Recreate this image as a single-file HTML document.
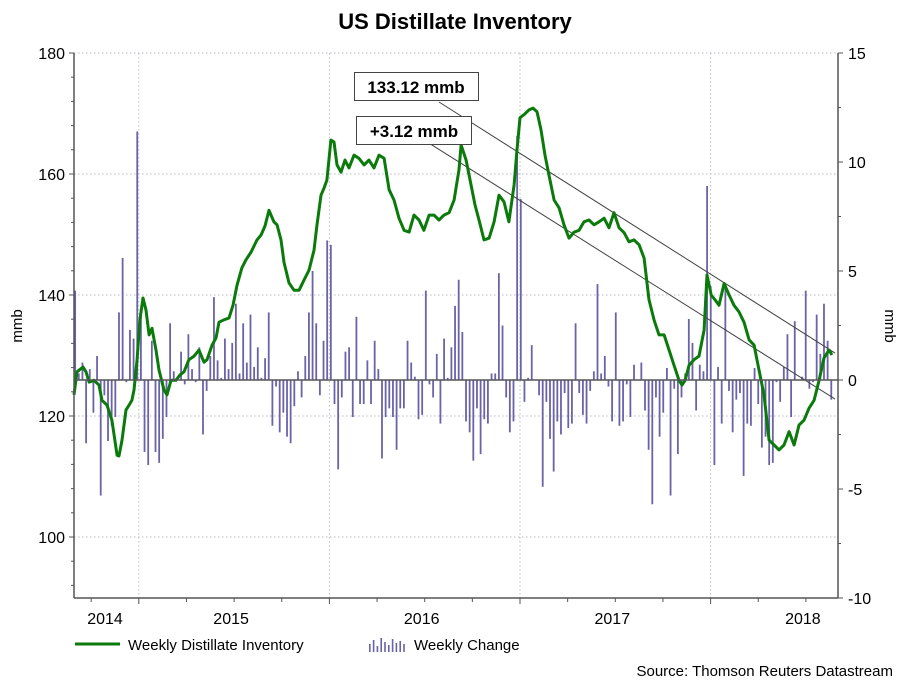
<!DOCTYPE html>
<html><head><meta charset="utf-8"><style>
body{margin:0;background:#fff;font-family:"Liberation Sans",sans-serif}
svg text{font-family:"Liberation Sans",sans-serif}
</style></head><body>
<svg id="chart" width="909" height="682" viewBox="0 0 909 682" xmlns="http://www.w3.org/2000/svg">
<text x="455" y="29" text-anchor="middle" font-size="22" font-weight="bold">US Distillate Inventory</text>
<g id="grid"></g>
<g id="bars"></g>
<g id="trend"></g>
<path id="line" fill="none" stroke="#0a7a0a" stroke-width="3" stroke-linejoin="round"/>
<g id="axes"></g>
<g>
<rect x="354.5" y="72.5" width="124" height="28" fill="#fff" stroke="#444"/>
<text x="416" y="93" text-anchor="middle" font-size="17" font-weight="bold">133.12 mmb</text></g>
<g>
<rect x="356.5" y="116.5" width="115" height="28" fill="#fff" stroke="#444"/>
<text x="414" y="137" text-anchor="middle" font-size="17" font-weight="bold">+3.12 mmb</text></g>
<text transform="translate(22,326) rotate(-90)" text-anchor="middle" font-size="15">mmb</text>
<text transform="translate(885,326) rotate(90)" text-anchor="middle" font-size="15">mmb</text>
<g>
<line x1="75" y1="644" x2="120" y2="644" stroke="#0a7a0a" stroke-width="3"/>
<text x="128" y="650" font-size="15">Weekly Distillate Inventory</text></g>
<g id="legbars">
<text x="414" y="650" font-size="15">Weekly Change</text></g>
<text x="893" y="676" text-anchor="end" font-size="15">Source: Thomson Reuters Datastream</text>
</svg>
<script>
const dates=[0,.016,.047,.063,.079,.105,.131,.147,.173,.199,.226,.236,.252,.273,.289,.304,.315,.331,.346,.362,.378,.394,.409,.430,.446,.472,.488,.509,.535,.556,.577,.603,.630,.656,.682,.698,.724,.745,.761,.787,.813,.834,.855,.881,.902,.929,.960,.981,1.002,1.023,1.049,1.065,1.086,1.102,1.128,1.154,1.181,1.207,1.233,1.259,1.275,1.296,1.312,1.327,1.348,1.364,1.380,1.401,1.422,1.443,1.469,1.495,1.522,1.548,1.574,1.600,1.627,1.653,1.679,1.705,1.732,1.758,1.784,1.810,1.836,1.863,1.889,1.915,1.941,1.968,1.994,2.020,2.031,2.057,2.073,2.088,2.104,2.125,2.151,2.178,2.204,2.230,2.256,2.282,2.309,2.324,2.340,2.361,2.387,2.408,2.429,2.450,2.471,2.492,2.519,2.545,2.571,2.597,2.624,2.650,2.676,2.702,2.728,2.755,2.781,2.807,2.833,2.860,2.886,2.912,2.938,2.965,2.991,3.017,3.043,3.069,3.096,3.122,3.148,3.174,3.190,3.206,3.227,3.253,3.279,3.306,3.321,3.343,3.363,3.384,3.411,3.437,3.463,3.489,3.515,3.542,3.568,3.594,3.620,3.647,3.673,3.699,3.725,3.752,3.778,3.804,3.830,3.857,3.883,3.909,3.935,3.961,3.977,4.003];
const inventory=[123.5,127.3,128.1,127.3,125.6,125.9,125.1,122.6,121.8,119.3,113.5,113.4,116.0,121.0,121.8,122.6,124.3,129.3,135.9,139.5,137.5,133.4,134.5,130.9,127.6,124.3,123.5,125.9,125.9,126.8,127.3,129.3,129.9,130.9,128.9,129.3,131.7,132.9,135.5,135.9,136.2,138.3,141.6,144.5,145.8,147.1,149.1,149.9,151.4,154.0,152.1,151.6,149.1,145.4,142.0,140.8,140.8,142.5,144.1,147.4,151.6,156.5,157.7,159.0,165.6,165.3,161.5,160.3,162.3,161.0,163.1,162.6,161.5,162.3,161.0,163.1,162.6,157.4,155.7,152.7,150.7,150.4,153.2,152.4,150.7,153.2,153.2,152.4,153.2,153.6,155.7,160.7,164.8,162.3,159.8,157.4,154.9,152.4,149.1,149.4,152.1,156.5,155.4,152.1,158.2,164.0,169.3,169.8,170.6,170.9,170.3,167.3,163.1,159.8,155.7,154.4,151.6,149.4,150.4,150.7,152.1,152.4,151.6,152.1,152.7,151.1,153.6,151.1,150.3,148.8,149.1,148.3,146.1,139.2,135.9,133.4,133.4,130.9,128.4,125.9,125.1,125.9,128.4,129.3,129.9,134.2,143.3,140.0,139.2,138.3,141.9,140.0,138.3,137.2,135.5,132.6,131.7,127.6,123.5,116.0,115.2,114.4,115.2,117.4,115.2,118.5,119.3,121.3,122.6,125.9,129.6,130.9,130.1];
const startYear=2014.66;
const barStart=2014.666;
const changes=[4.1,.3,.8,-2.9,.5,-1.5,1.1,-5.3,-.7,-2.8,-2.1,-1.7,3.1,5.6,-.1,2.3,1.9,11.4,3.0,-3.3,-3.9,1.8,-3.3,-3.8,-2.7,-1.7,2.6,.4,0,1.3,-.2,2.1,.5,-.1,1.5,-2.5,-.5,1.1,3.8,.9,.1,1.9,.5,1.7,3.5,.3,2.6,.8,3.0,.6,1.5,.1,1.0,3.1,-2.1,-.3,-2.4,-1.5,-2.6,-2.9,-1.2,.4,-.8,1.1,3.1,5.0,2.6,-.7,1.8,6.4,6.2,-1.1,-4.1,-.8,1.3,1.5,
-1.7,2.9,-1.1,-1.1,.9,-1.1,1.8,.5,-3.6,-1.7,-1.3,-1.7,-3.2,-1.3,-1.3,1.8,.8,.15,-1.8,-1.6,4.1,-.2,-.8,1.2,-2.0,1.9,.1,1.5,3.4,4.6,2.2,-1.9,-2.4,-3.7,-1.3,-3.4,-1.8,-2.0,.3,.3,4.9,2.5,-.8,-2.4,-1.9,11.2,8.3,-1.0,.1,1.6,0,-.7,-4.9,-1.0,-2.7,-4.2,-1.9,-2.5,-.6,-2.2,-2.0,2.6,-.6,-1.6,-2.0,-.5,.4,4.4,.3,
1.1,-.3,-1.9,3.1,-2.1,-1.9,-.2,-1.7,.7,0,.8,-1.4,-3.2,-5.7,-.8,-2.6,-1.5,.55,-5.3,-.4,-3.4,-.8,.3,2.8,1.7,-1.4,.7,.4,8.9,4.3,-3.9,.6,-2.0,4.4,-.5,-2.4,-.9,-.6,-4.4,-2.0,-2.1,.55,-1.1,-3.1,-2.6,-3.9,-3.8,-.1,-1.0,.6,2.1,-1.7,2.7,0,.15,4.1,-.4,-.1,3.0,1.2,3.5,1.8,-.9];
const trendUpper=[[2016.575,171.9],[2018.653,130.4]];
const trendLower=[[2016.523,165.1],[2018.653,122.8]];
const leftTicks=[100,120,140,160,180];
const rightTicks=[-10,-5,0,5,10,15];
const yearLabels=[2014,2015,2016,2017,2018];
const yearBounds=[2015,2016,2017,2018];

const X0=74,X1=838,Y0=53,Y1=598;
const xs=t=>X0+(t-2014.66)*190.6;
const yl=v=>Y0+(180-v)*6.05;
const yr=v=>Y0+(15-v)*21.8;
const NS='http://www.w3.org/2000/svg';
function mk(p,tag,at){const e=document.createElementNS(NS,tag);for(const k in at)e.setAttribute(k,at[k]);p.appendChild(e);return e;}
const grid=document.getElementById('grid'),axes=document.getElementById('axes');
[100,120,140,160,180].forEach(v=>{const l=mk(grid,'line',{x1:X0,x2:X1,y1:yl(v),y2:yl(v),stroke:'#b8b8c8','stroke-dasharray':'1.5 2.5'});

});
yearBounds.forEach(y=>{const l=mk(grid,'line',{x1:xs(y),x2:xs(y),y1:Y0,y2:Y1,stroke:'#b8b8c8','stroke-dasharray':'1.5 2.5'});

});
const bars=document.getElementById('bars');
changes.forEach((c,i)=>{const x=xs(barStart+i*7/365.25);const y=yr(c),z=yr(0);
const r=mk(bars,'rect',{x:x-0.9,y:Math.min(y,z),width:1.8,height:Math.max(Math.abs(y-z),0.5),fill:'#6b63a8'});

});
const zl=mk(axes,'line',{x1:X0,x2:X1,y1:yr(0),y2:yr(0),stroke:'#555','stroke-width':1.5});


const tr=document.getElementById('trend');
[trendUpper,trendLower].forEach(a=>{const l=mk(tr,'line',{x1:xs(a[0][0]),y1:yl(a[0][1]),x2:xs(a[1][0]),y2:yl(a[1][1]),stroke:'#444','stroke-width':1});

});
document.getElementById('line').setAttribute('d',dates.map((d,i)=>(i?'L':'M')+xs(startYear+d).toFixed(1)+' '+yl(inventory[i]).toFixed(1)).join(''));
mk(axes,'line',{x1:X0,x2:X0,y1:Y0,y2:Y1,stroke:'#555','stroke-width':1.5});
mk(axes,'line',{x1:X1,x2:X1,y1:Y0,y2:Y1,stroke:'#555','stroke-width':1.5});
mk(axes,'line',{x1:X0,x2:X1,y1:Y1,y2:Y1,stroke:'#555','stroke-width':1.5});
for(let v=92;v<=180;v+=4){mk(axes,'line',{x1:X0-(v%20==0?5:3),x2:X0,y1:yl(v),y2:yl(v),stroke:'#555'});}
leftTicks.forEach(v=>{const t=mk(axes,'text',{x:X0-9,y:yl(v)+6,'text-anchor':'end','font-size':16});t.textContent=v;

});
for(let v=-10;v<=15;v+=2.5){mk(axes,'line',{x1:X1,x2:X1+(v%5==0?5:3),y1:yr(v),y2:yr(v),stroke:'#555'});}
rightTicks.forEach(v=>{const t=mk(axes,'text',{x:X1+10,y:yr(v)+6,'font-size':16});t.textContent=v;

});
for(let q=2014.75;q<2018.7;q+=0.25){mk(axes,'line',{x1:xs(q),x2:xs(q),y1:Y1,y2:Y1+(Math.abs(q-Math.round(q))<0.01?6:4),stroke:'#555'});}
yearLabels.forEach(y=>{const cx=y==2014?105:xs(y+0.5)-3;const t=mk(axes,'text',{x:cx,y:624,'text-anchor':'middle','font-size':16});t.textContent=y;

});
const lb=document.getElementById('legbars');
[6,10,4,12,8,5,11,7,9,6].forEach((h,i)=>{mk(lb,'rect',{x:369+i*3.8,y:652-h-2,width:1.6,height:h+2,fill:'#6b63a8'});});
</script>
</body></html>
